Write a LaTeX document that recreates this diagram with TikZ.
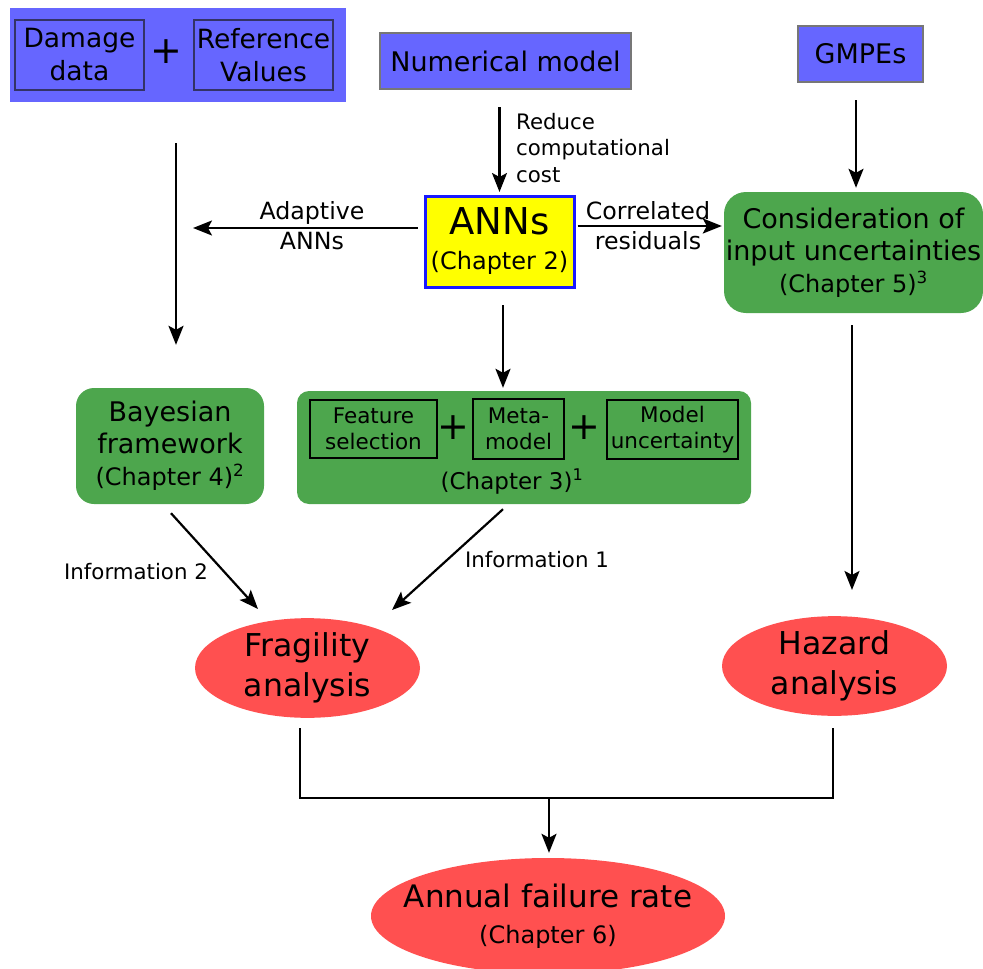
\documentclass[tikz,border=0pt]{standalone}
\usepackage{fontspec}
\setmainfont{DejaVu Sans}
\usetikzlibrary{arrows.meta,shapes.geometric}
\definecolor{srcblue}{HTML}{6666FF}
\definecolor{chapgreen}{HTML}{4DA64D}
\definecolor{resred}{HTML}{FF5050}
\definecolor{annyellow}{HTML}{FFFF00}
\definecolor{annblue}{HTML}{1A1AFF}
\definecolor{edgegray}{HTML}{777777}
\definecolor{innerline}{HTML}{333366}
\newcommand{\fsz}[2]{\fontsize{#1}{#2}\selectfont}

\begin{document}
\begin{tikzpicture}[x=1pt, y=-1pt,
    flow/.style={-{Stealth[length=19pt,width=15pt,inset=4pt]}, line width=2.2pt},
    srcbox/.style={draw=edgegray, line width=2pt, fill=srcblue, inner sep=0pt, font=\fsz{27}{33}},
    inbox/.style={draw=innerline, line width=1.5pt, inner sep=0pt, align=center, font=\fsz{26.5}{33}},
    subbox/.style={draw=black, line width=1.5pt, inner sep=0pt, align=center, font=\fsz{21.5}{26}},
    chapbox/.style={fill=chapgreen, inner sep=1pt, align=center, font=\fsz{27}{32}},
    result/.style={ellipse, fill=resred, inner sep=0pt, align=center},
    lbl/.style={inner sep=0pt, align=center, font=\fsz{21.3}{26.5}},
    midlbl/.style={inner sep=0pt, align=center, font=\fsz{23.7}{30}},
    plus/.style={inner sep=0pt, font=\fsz{38}{40}}]
    \useasboundingbox (0,0) rectangle (983,969);

    % inputs
    \node[fill=srcblue, minimum width=336pt, minimum height=94pt] (dmgbg) at (178,55) {};
    \node[inbox, minimum width=129pt, minimum height=70pt] (dmg) at (79.5,55) {Damage\\data};
    \node[plus] (plusa) at (166,52) {+};
    \node[inbox, minimum width=139pt, minimum height=70pt] (refv) at (263.5,55) {Reference\\Values};
    \node[srcbox, minimum width=251pt, minimum height=56pt] (num) at (505.5,61) {Numerical model};
    \node[srcbox, minimum width=125pt, minimum height=56pt] (gmpe) at (860.5,54) {GMPEs};

    % ANNs and chapters
    \node[draw=annblue, line width=3pt, fill=annyellow, inner sep=0pt, align=center,
          minimum width=149pt, minimum height=91pt, font=\fsz{24}{35}] (ann) at (499.5,241.5)
          {{\fsz{37}{40}ANNs}\\(Chapter 2)};
    \node[chapbox, rounded corners=22pt, minimum width=259pt, minimum height=121pt] (cons) at (853.5,252.5)
          {Consideration of\\input uncertainties\\{\fsz{24}{32}(Chapter 5)\textsuperscript{3}}};
    \node[chapbox, rounded corners=18pt, minimum width=188pt, minimum height=116pt, text depth=6pt] (bay) at (170,446)
          {Bayesian\\framework\\{\fsz{24}{32}(Chapter 4)\textsuperscript{2}}};
    \node[chapbox, rounded corners=12pt, minimum width=454pt, minimum height=113pt] (ch3) at (524,447.5) {};
    \node[subbox, minimum width=127pt, minimum height=58pt] (feat) at (373.5,429) {Feature\\selection};
    \node[plus] (plusb) at (453,428) {+};
    \node[subbox, minimum width=91pt, minimum height=60pt] (meta) at (518.5,429) {Meta-\\model};
    \node[plus] (plusc) at (584,428) {+};
    \node[subbox, minimum width=131pt, minimum height=59pt] (unc) at (672.5,429.5) {Model\\uncertainty};
    \node[inner sep=0pt, font=\fsz{23}{30}] (ch3lbl) at (512,482) {(Chapter 3)\textsuperscript{1}};

    % results
    \node[result, minimum width=225pt, minimum height=96pt, font=\fsz{31.5}{40}] (frag) at (307.5,668) {Fragility\\analysis};
    \node[result, minimum width=225pt, minimum height=96pt, font=\fsz{31.5}{40}] (haz) at (834.5,666) {Hazard\\analysis};
    \node[result, inner xsep=-28pt, minimum width=354pt, minimum height=116pt, font=\fsz{31}{36}] (annual) at (548,916)
          {Annual failure rate\\{\fsz{24}{36}(Chapter 6)}};

    % connectors
    \coordinate (adapt) at (193,228);
    \coordinate (infob) at (258,609);
    \coordinate (infoa) at (392,610);
    \coordinate (merge) at (549,798);
    \draw[flow, shorten <=41pt, shorten >=43pt] ([xshift=-2pt]dmgbg.south) -- ([xshift=6pt]bay.north);
    \draw[flow, shorten <=17pt, shorten >=2.5pt] (num.south -| ann.north) -- (ann.north);
    \node[lbl, anchor=west, align=left] (cost) at (516,148) {Reduce\\computational\\cost};
    \draw[flow, shorten <=6pt] (ann.west |- adapt) -- (adapt);
    \node[midlbl] (adaptlbl) at (312,226) {Adaptive\\ANNs};
    \draw[flow, shorten <=2pt, shorten >=2pt] ([yshift=15.5pt]ann.east) -- ([yshift=26.5pt]cons.west);
    \node[midlbl] (corrlbl) at (648,226) {Correlated\\residuals};
    \draw[flow, shorten <=17pt, shorten >=4pt] ([xshift=-4.5pt]gmpe.south) -- ([xshift=2.5pt]cons.north);
    \draw[flow, shorten <=16.5pt, shorten >=3pt] ([xshift=3.5pt]ann.south) -- ([xshift=3.5pt]ann.south |- ch3.north);
    \draw[flow, shorten <=12pt, shorten >=26pt] ([xshift=-1.5pt]cons.south) -- ([xshift=-1.5pt]cons.south |- haz.north);
    \draw[flow] ([shift={(1,9)}]bay.south) -- (infob);
    \node[lbl] (infotwo) at (136,572) {Information 2};
    \draw[flow] ([shift={(-21,5)}]ch3.south) -- (infoa);
    \node[lbl] (infoone) at (537,560) {Information 1};
    \draw[line width=2.2pt] ([shift={(-7.5,10)}]frag.south) |- (merge) -| ([shift={(-1.5,12)}]haz.south);
    \draw[flow, shorten >=5pt] (merge) -- (merge |- annual.north);
\end{tikzpicture}
\end{document}
